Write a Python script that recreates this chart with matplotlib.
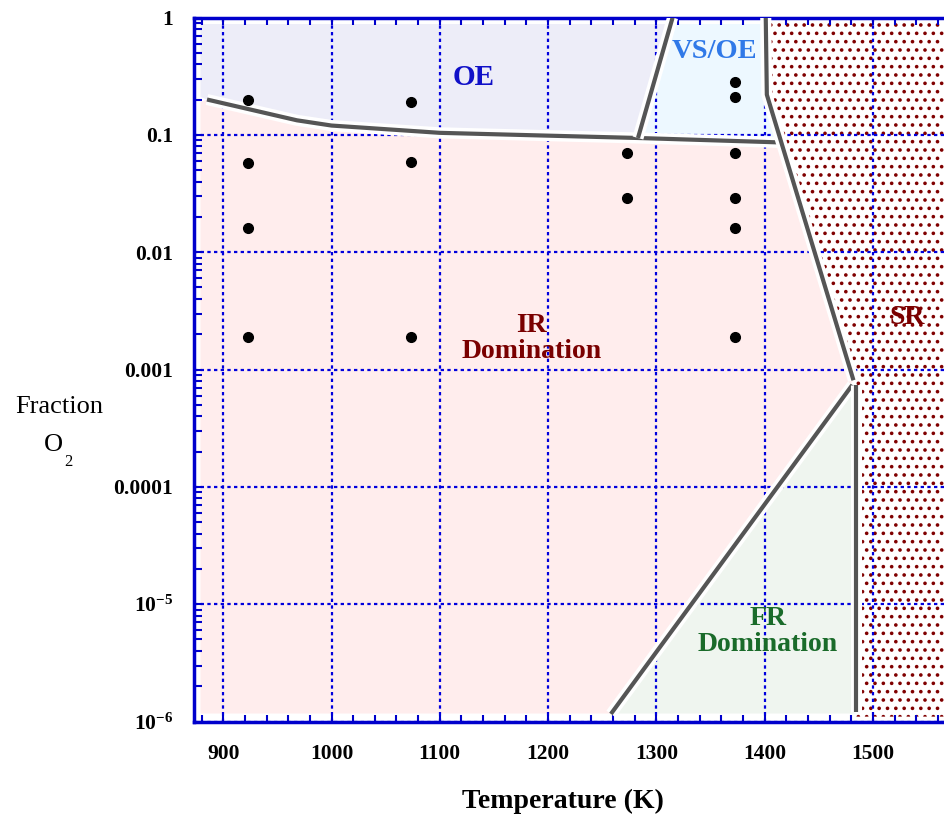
"""O2 fraction vs temperature regime map."""

import matplotlib
matplotlib.use("Agg")
import matplotlib.pyplot as plt
import matplotlib.patheffects as pe
from matplotlib.patches import Polygon
from matplotlib.ticker import NullFormatter, LogLocator

plt.rcParams["font.family"] = ["Liberation Serif", "DejaVu Serif"]
plt.rcParams["mathtext.fontset"] = "custom"
plt.rcParams["mathtext.rm"] = "Liberation Serif"
plt.rcParams["mathtext.bf"] = "Liberation Serif:bold"
plt.rcParams["hatch.linewidth"] = 1.4

# experiment conditions (temperature K, O2 fraction)
point_temp = [923, 923, 923, 923, 1073, 1073, 1073, 1273, 1273,
              1373, 1373, 1373, 1373, 1373, 1373]
point_o2 = [0.20, 0.058, 0.016, 0.0019, 0.19, 0.059, 0.0019, 0.070, 0.029,
            0.28, 0.21, 0.070, 0.029, 0.016, 0.0019]

# OE / IR boundary
oe_temp = [885, 968, 1000, 1100, 1283, 1400, 1416]
oe_o2 = [0.20, 0.133, 0.12, 0.104, 0.094, 0.087, 0.086]
# VS/OE left edge
vs_temp = [1283, 1315]
vs_o2 = [0.094, 1.0]
# SR boundary
sr_temp = [1401, 1402, 1482]
sr_o2 = [1.0, 0.22, 8.1e-4]
# FR boundaries
fr_temp = [1258, 1481]
fr_o2 = [1.16e-6, 7.4e-4]
fr_edge_temp = [1484, 1484]
fr_edge_o2 = [7.4e-4, 1.2e-6]

xtick_vals = [900, 1000, 1100, 1200, 1300, 1400, 1500]
ytick_vals = [1e-6, 1e-5, 1e-4, 1e-3, 1e-2, 1e-1, 1]
ytick_labels = [r"$\mathbf{10^{-6}}$", r"$\mathbf{10^{-5}}$", "0.0001", "0.001",
                "0.01", "0.1", "1"]

W, H = 945, 818
fig = plt.figure(figsize=(W / 100, H / 100), dpi=100)
ax = fig.add_axes([194 / W, 96.5 / H, (952 - 194) / W, 704 / H])
ax.set_yscale("log")
ax.set_xlim(873, 1573)
ax.set_ylim(1e-6, 1)

# inner edges of the filled regions
lo_t, hi_t = 879, 1600
top_f, bot_f = 0.88, 1.17e-6

oe_poly = ([(lo_t, top_f), (1313.5, top_f)]
           + list(zip(oe_temp[:5], oe_o2[:5]))[::-1] + [(lo_t, 0.21)])
vs_poly = [(1313.5, top_f), (sr_temp[0], top_f), (sr_temp[1], sr_o2[1]),
           (oe_temp[-1], oe_o2[-1]), (oe_temp[4], oe_o2[4])]
ir_poly = ([(lo_t, 0.19)] + list(zip(oe_temp, oe_o2))
           + [(sr_temp[2], sr_o2[2]), (fr_temp[0], bot_f), (lo_t, bot_f)])
fr_poly = [(fr_temp[0], bot_f), (fr_temp[1], fr_o2[1]),
           (fr_edge_temp[0], fr_edge_o2[0]), (fr_edge_temp[1], bot_f)]
sr_poly = [(sr_temp[0], 1), (hi_t, 1), (hi_t, 1.1e-6), (fr_edge_temp[1], 1.1e-6),
           (fr_edge_temp[0], fr_edge_o2[0]), (sr_temp[2], sr_o2[2]),
           (sr_temp[1], sr_o2[1])]

ax.add_patch(Polygon(oe_poly, closed=True, facecolor="#EDEDF8", edgecolor="none", zorder=1))
ax.add_patch(Polygon(vs_poly, closed=True, facecolor="#EDF8FF", edgecolor="none", zorder=1))
ax.add_patch(Polygon(ir_poly, closed=True, facecolor="#FFEDED", edgecolor="none", zorder=1))
ax.add_patch(Polygon(fr_poly, closed=True, facecolor="#EFF5EF", edgecolor="none", zorder=1))
ax.add_patch(Polygon(sr_poly, closed=True, facecolor="white", edgecolor="#800000",
                     linewidth=0, hatch="..", zorder=1))

halo = [pe.Stroke(linewidth=8, foreground="white"), pe.Normal()]
for tx, ty in [(oe_temp, oe_o2), (vs_temp, vs_o2), (sr_temp, sr_o2),
               (fr_temp, fr_o2), (fr_edge_temp, fr_edge_o2)]:
    ax.plot(tx, ty, color="#555555", lw=3, solid_capstyle="butt",
            path_effects=halo, zorder=3)

ax.plot(point_temp, point_o2, "o", color="black", markersize=7, zorder=5)

# grid and frame
ax.grid(True, which="major", color="#0000DD", linestyle=(0, (1.5, 1.5)), linewidth=1.6)
for sp in ax.spines.values():
    sp.set_color("#0000CC")
    sp.set_linewidth(2.5)

ax.set_xticks(xtick_vals, labels=[str(v) for v in xtick_vals],
              fontweight="bold", fontsize=15.5)
ax.set_xticks(range(880, 1580, 20), minor=True)
ax.set_yticks(ytick_vals, labels=ytick_labels, fontweight="bold", fontsize=15.5)
ax.yaxis.set_minor_locator(LogLocator(base=10, subs=range(2, 10)))
ax.yaxis.set_minor_formatter(NullFormatter())
ax.tick_params(which="both", direction="in", color="#0000CC", width=1.5,
               top=True, right=True, labelcolor="black")
ax.tick_params(axis="x", which="both", length=5, pad=16)
ax.tick_params(axis="y", which="both", length=6, pad=15)

# region names
ax.text(1131, 0.31, "OE", color="#1010C8", fontsize=21, fontweight="bold",
        ha="center", va="center")
ax.text(1354, 0.51, "VS/OE", color="#3079E8", fontsize=20.5, fontweight="bold",
        ha="center", va="center")
ax.text(1185, 0.00185, "IR\nDomination", color="#7A0000", fontsize=20,
        fontweight="bold", ha="center", va="center", linespacing=1.05)
ax.text(1532, 0.00275, "SR", color="#7A0000", fontsize=20, fontweight="bold",
        ha="center", va="center")
ax.text(1403, 5.8e-6, "FR\nDomination", color="#1A6B2A", fontsize=20,
        fontweight="bold", ha="center", va="center", linespacing=1.05)

# axis titles
fig.text(563 / W, 1 - 801 / H, "Temperature (K)", fontsize=20, fontweight="bold",
         ha="center", va="center")
fig.text(59 / W, 1 - 407 / H, "Fraction", fontsize=19, ha="center", va="center")
fig.text(53 / W, 1 - 445 / H, "O", fontsize=19, ha="center", va="center")
fig.text(68 / W, 1 - 462 / H, "2", fontsize=12, ha="center", va="center")

fig.savefig("out.png", dpi=100)
